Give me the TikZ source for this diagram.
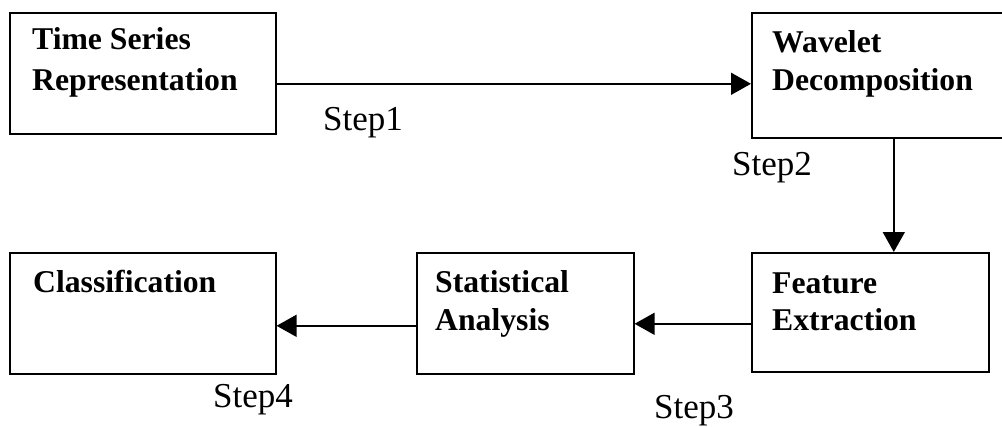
\documentclass[tikz,border=0pt]{standalone}
\usepackage{fontspec}
\setmainfont{Liberation Serif}
\usetikzlibrary{arrows.meta}
\begin{document}
\begin{tikzpicture}[x=1pt,y=-1pt,
  box/.style={draw,line width=1.6pt,inner sep=0pt,anchor=north west},
  btxt/.style={anchor=base west,inner sep=0pt,font=\fontsize{31.7}{38}\selectfont\bfseries},
  steplbl/.style={anchor=base west,inner sep=0pt,font=\fontsize{35}{42}\selectfont},
  arr/.style={line width=1.6pt,-{Triangle[length=20pt,width=22pt]}}]
\useasboundingbox (0,0) rectangle (1002,426);
\clip (0,0) rectangle (1002,426);
% boxes
\node[box,minimum width=266pt,minimum height=121pt] (b1) at (9,12) {};
\node[box,minimum width=284pt,minimum height=125pt] (b2) at (751,12) {};
\node[box,minimum width=237pt,minimum height=119pt] (b3) at (751,252) {};
\node[box,minimum width=217pt,minimum height=121pt] (b4) at (416,252) {};
\node[box,minimum width=266pt,minimum height=121pt] (b5) at (9,252) {};
% box texts
\node[btxt] (t1a) at (32,49) {Time Series};
\node[btxt] (t1b) at (32,90) {Representation};
\node[btxt] (t2a) at (772,52) {Wavelet};
\node[btxt] (t2b) at (772,90) {Decomposition};
\node[btxt] (t3a) at (772,293) {Feature};
\node[btxt] (t3b) at (772,330) {Extraction};
\node[btxt] (t4a) at (435,292) {Statistical};
\node[btxt] (t4b) at (435,330) {Analysis};
\node[btxt] (t5a) at (33,292) {Classification};
% connectors
\path ([yshift=-10.5pt]b1.east) coordinate (s1);
\draw[arr] (s1) -- (s1 -| b2.west);
\draw[arr] (b2.south) -- (b2.south |- b3.north);
\path ([yshift=-11.5pt]b3.west) coordinate (s3);
\draw[arr] (s3) -- (s3 -| b4.east);
\path ([yshift=-12.5pt]b4.west) coordinate (s4);
\draw[arr] (s4) -- (s4 -| b5.east);
% step labels
\node[steplbl] (l1) at (323,130) {Step1};
\node[steplbl] (l2) at (732,175) {Step2};
\node[steplbl] (l3) at (654,418) {Step3};
\node[steplbl] (l4) at (213,407) {Step4};
\end{tikzpicture}
\end{document}
